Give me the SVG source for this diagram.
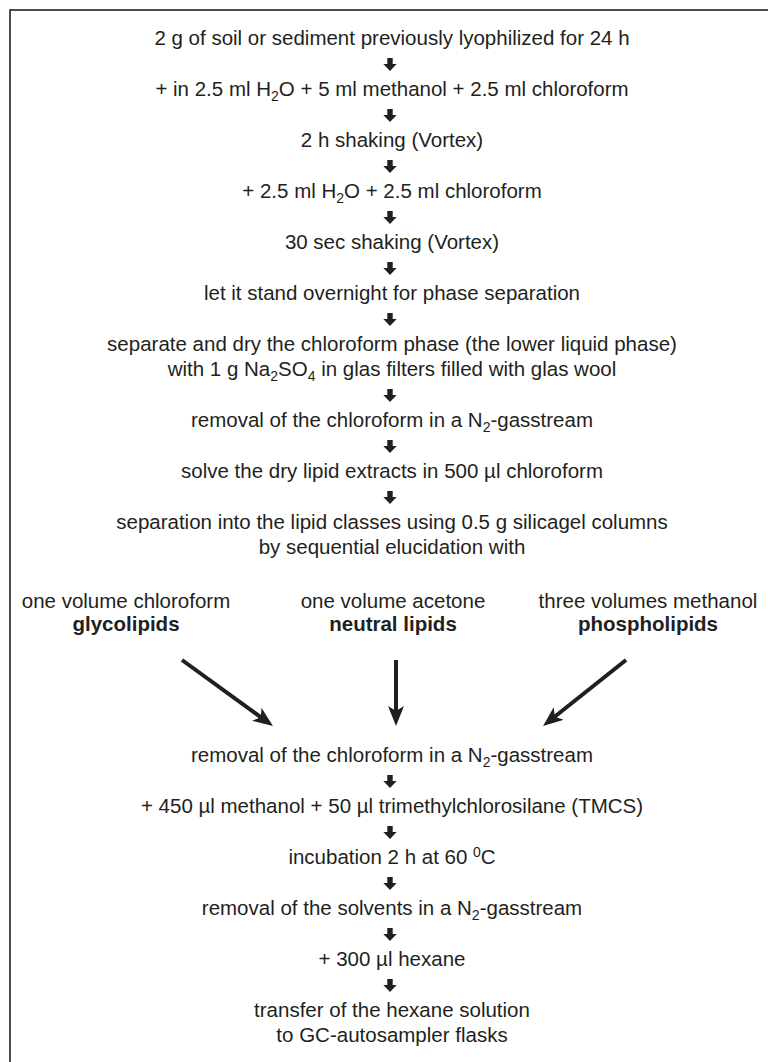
<svg xmlns="http://www.w3.org/2000/svg" width="768" height="1062" viewBox="0 0 768 1062">
<style>
text{font-family:"Liberation Sans",Arial,Helvetica,sans-serif;font-size:20.5px;fill:#231f20;text-anchor:middle}
.b{font-weight:bold}
.s{font-size:14px}
.frame{fill:none;stroke:#231f20;stroke-width:1.6}
.dl{stroke:#231f20;stroke-width:4;fill:none;marker-end:url(#ah)}
</style>
<defs>
<path id="da" d="M-2.7,0 H2.7 V6 H6.7 L0,13 L-6.7,6 H-2.7 Z" fill="#231f20"/>
<marker id="ah" viewBox="0 0 20 16" refX="12" refY="8" markerWidth="20" markerHeight="16" markerUnits="userSpaceOnUse" orient="auto"><path d="M0,0 L20,8 L0,16 L5,8 Z" fill="#231f20"/></marker>
</defs>
<rect class="frame" x="10" y="10" width="800" height="1100"/>
<g id="n1"><text x="392" y="45">2 g of soil or sediment previously lyophilized for 24 h</text></g>
<g id="n2"><text x="392" y="96">+ in 2.5 ml H<tspan class="s" dy="5">2</tspan><tspan dy="-5">O + 5 ml methanol + 2.5 ml chloroform</tspan></text></g>
<g id="n3"><text x="392" y="147">2 h shaking (Vortex)</text></g>
<g id="n4"><text x="392" y="198">+ 2.5 ml H<tspan class="s" dy="5">2</tspan><tspan dy="-5">O + 2.5 ml chloroform</tspan></text></g>
<g id="n5"><text x="392" y="249">30 sec shaking (Vortex)</text></g>
<g id="n6"><text x="392" y="300">let it stand overnight for phase separation</text></g>
<g id="n7"><text x="392" y="351">separate and dry the chloroform phase (the lower liquid phase)</text>
<text x="392" y="376">with 1 g Na<tspan class="s" dy="5">2</tspan><tspan dy="-5">SO</tspan><tspan class="s" dy="5">4</tspan><tspan dy="-5"> in glas filters filled with glas wool</tspan></text></g>
<g id="n8"><text x="392" y="427">removal of the chloroform in a N<tspan class="s" dy="5">2</tspan><tspan dy="-5">-gasstream</tspan></text></g>
<g id="n9"><text x="392" y="478">solve the dry lipid extracts in 500 µl chloroform</text></g>
<g id="n10"><text x="392" y="529">separation into the lipid classes using 0.5 g silicagel columns</text>
<text x="392" y="554">by sequential elucidation with</text></g>
<g id="glyco"><text x="126" y="608">one volume chloroform</text><text class="b" x="126" y="631">glycolipids</text></g>
<g id="neutral"><text x="393" y="608">one volume acetone</text><text class="b" x="393" y="631">neutral lipids</text></g>
<g id="phospho"><text x="648" y="608">three volumes methanol</text><text class="b" x="648" y="631">phospholipids</text></g>
<g id="b1"><text x="392" y="762">removal of the chloroform in a N<tspan class="s" dy="5">2</tspan><tspan dy="-5">-gasstream</tspan></text></g>
<g id="b2"><text x="392" y="813">+ 450 µl methanol + 50 µl trimethylchlorosilane (TMCS)</text></g>
<g id="b3"><text x="392" y="864">incubation 2 h at 60 <tspan class="s" dy="-7">0</tspan><tspan dy="7">C</tspan></text></g>
<g id="b4"><text x="392" y="915">removal of the solvents in a N<tspan class="s" dy="5">2</tspan><tspan dy="-5">-gasstream</tspan></text></g>
<g id="b5"><text x="392" y="966">+ 300 µl hexane</text></g>
<g id="b6"><text x="392" y="1017">transfer of the hexane solution</text>
<text x="392" y="1042">to GC-autosampler flasks</text></g>
<g id="connectors">
<use href="#da" x="390" y="58"/>
<use href="#da" x="390" y="109"/>
<use href="#da" x="390" y="160"/>
<use href="#da" x="390" y="211"/>
<use href="#da" x="390" y="262"/>
<use href="#da" x="390" y="313"/>
<use href="#da" x="390" y="389"/>
<use href="#da" x="390" y="440"/>
<use href="#da" x="390" y="491"/>
<line class="dl" x1="182" y1="660" x2="266.5" y2="721.3"/>
<line class="dl" x1="396" y1="660" x2="396" y2="718"/>
<line class="dl" x1="626" y1="660" x2="549.3" y2="721"/>
<use href="#da" x="390" y="775"/>
<use href="#da" x="390" y="826"/>
<use href="#da" x="390" y="877"/>
<use href="#da" x="390" y="928"/>
<use href="#da" x="390" y="979"/>
</g>
</svg>
